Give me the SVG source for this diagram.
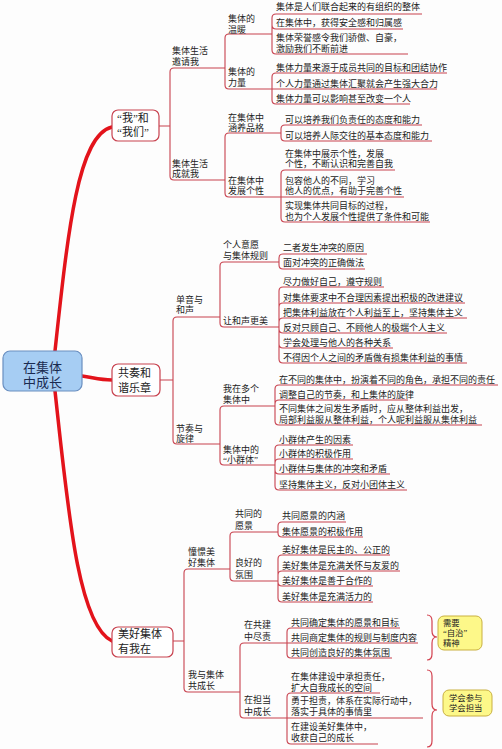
<svg xmlns="http://www.w3.org/2000/svg" width="502" height="749" viewBox="0 0 502 749">
<style>
.t{font-family:"Liberation Serif","Noto Sans CJK SC","Noto Sans CJK JP",serif;font-size:9px;fill:#222}
.bt{font-family:"Liberation Serif","Noto Sans CJK SC",serif;font-size:11px;fill:#222}
.rt{font-family:"Liberation Serif","Noto Sans CJK SC",serif;font-size:13px;fill:#1a2a50}
.yt{font-family:"Liberation Serif","Noto Sans CJK SC",serif;font-size:8.4px;fill:#222}
.c{fill:none;stroke:#c8424f;stroke-width:1.1}
.b{fill:#fff;stroke:#c8424f;stroke-width:1.2}
.m{fill:none;stroke:#e3131b;stroke-width:3.5;stroke-linecap:round}
.y{fill:#fdf889;stroke:#c9b040;stroke-width:1}
.br{fill:none;stroke:#d2404e;stroke-width:1.2}
</style>
<rect width="502" height="749" fill="#fdfdfd"/>
<g id="connectors">
<path class="m" d="M55,351 C68,230 78,135 112,127"/>
<path class="m" d="M82,376 C95,378 100,380 112,380"/>
<path class="m" d="M55,391 C68,510 78,625 112,641"/>
<path class="c" d="M159,126 H170 M170,126 V72 Q170,68 174,68 H225 M170,126 V176 Q170,180 174,180 H225"/>
<path class="c" d="M225,68 V38 Q225,34 229,34 H272 M225,68 V85 Q225,89 229,89 H272"/>
<path class="c" d="M272,34 V18 Q272,14 276,14 H422 M272,34 V25 Q272,29 276,29 H403 M272,34 V50 Q272,54 276,54 H408"/>
<path class="c" d="M272,89 V77 Q272,73 276,73 H447 M272,89 H437 M272,89 V100 Q272,104 276,104 H410"/>
<path class="c" d="M225,180 V137 Q225,133 229,133 H281 M225,180 V193 Q225,197 229,197 H281"/>
<path class="c" d="M281,133 V129 Q281,125 285,125 H422 M281,133 V137 Q281,141 285,141 H432"/>
<path class="c" d="M281,197 V174 Q281,170 285,170 H395 M281,197 H404 M281,197 V218 Q281,222 285,222 H430"/>
<path class="c" d="M160,380 H173 M173,380 V321 Q173,317 177,317 H220 M173,380 V440 Q173,444 177,444 H220"/>
<path class="c" d="M220,317 V266 Q220,262 224,262 H279 M220,317 V323 Q220,327 224,327 H279"/>
<path class="c" d="M279,262 V258 Q279,254 283,254 H367 M279,262 V265 Q279,269 283,269 H365"/>
<path class="c" d="M279,327 V291 Q279,287 283,287 H384 M279,327 V307 Q279,303 283,303 H465 M279,327 V322 Q279,318 283,318 H467 M279,327 V329 Q279,333 283,333 H447 M279,327 V344 Q279,348 283,348 H393 M279,327 V359 Q279,363 283,363 H467"/>
<path class="c" d="M220,444 V410 Q220,406 224,406 H275 M220,444 V461 Q220,465 224,465 H275"/>
<path class="c" d="M275,406 V389 Q275,385 279,385 H498 M275,406 V404 Q275,400 279,400 H408 M275,406 V421 Q275,425 279,425 H482"/>
<path class="c" d="M275,465 V449 Q275,445 279,445 H353 M275,465 V463 Q275,459 279,459 H353 M275,465 V470 Q275,474 279,474 H390 M275,465 V486 Q275,490 279,490 H407"/>
<path class="c" d="M173,641 H184 M184,641 V573 Q184,569 188,569 H230 M184,641 V688 Q184,692 188,692 H240"/>
<path class="c" d="M230,569 V536 Q230,532 234,532 H278 M230,569 V577 Q230,581 234,581 H278"/>
<path class="c" d="M278,532 V526 Q278,522 282,522 H346 M278,532 V533 Q278,537 282,537 H363"/>
<path class="c" d="M278,581 V559 Q278,555 282,555 H390 M278,581 V575 Q278,571 282,571 H400 M278,581 V582 Q278,586 282,586 H373 M278,581 V598 Q278,602 282,602 H373"/>
<path class="c" d="M240,692 V647 Q240,643 244,643 H287 M240,692 V714 Q240,718 244,718 H287"/>
<path class="c" d="M287,643 V632 Q287,628 291,628 H400 M287,643 H418 M287,643 V654 Q287,658 291,658 H392"/>
<path class="c" d="M287,718 V697 Q287,693 291,693 H380 M287,718 H423 M287,718 V740 Q287,744 291,744 H378"/>
<path class="br" d="M427,615 Q432,615 432,621 V631 Q432,637 437,637 Q432,637 432,643 V654 Q432,660 427,660"/>
<path class="br" d="M427,670 Q432,670 432,676 V704 Q432,710 437,710 Q432,710 432,716 V741 Q432,747 427,747"/>
</g>
<g id="root">
<rect x="3" y="351" width="79" height="40" rx="7" fill="#a6cdf3" stroke="#6a8fc0" stroke-width="1.2"/>
<text class="rt" x="42.5" y="371.5" text-anchor="middle">在集体</text>
<text class="rt" x="42.5" y="387" text-anchor="middle">中成长</text>
</g>
<g id="n-women">
<rect class="b" x="112" y="110" width="47" height="31" rx="6"/>
<text class="bt" x="117" y="122">“我”和</text>
<text class="bt" x="117" y="136">“我们”</text>
</g>
<g id="n-yaoqing"><text class="t" x="172" y="53.5">集体生活</text><text class="t" x="172" y="64.5">邀请我</text></g>
<g id="n-chengjiu"><text class="t" x="172" y="166.5">集体生活</text><text class="t" x="172" y="177">成就我</text></g>
<g id="n-wennuan"><text class="t" x="228" y="22">集体的</text><text class="t" x="228" y="32.5">温暖</text></g>
<g id="n-liliang"><text class="t" x="228" y="75">集体的</text><text class="t" x="228" y="85.5">力量</text></g>
<g id="n-hanyang"><text class="t" x="228" y="120.5">在集体中</text><text class="t" x="228" y="131">涵养品格</text></g>
<g id="n-fazhan"><text class="t" x="228" y="183.5">在集体中</text><text class="t" x="228" y="194">发展个性</text></g>
<g id="leaves-1">
<text class="t" x="276" y="10.3">集体是人们联合起来的有组织的整体</text>
<text class="t" x="276" y="26.3">在集体中，获得安全感和归属感</text>
<text class="t" x="276" y="41.3">集体荣誉感令我们骄傲、自豪，</text>
<text class="t" x="276" y="51.8">激励我们不断前进</text>
<text class="t" x="276" y="71">集体力量来源于成员共同的目标和团结协作</text>
<text class="t" x="276" y="86.5">个人力量通过集体汇聚就会产生强大合力</text>
<text class="t" x="276" y="101.5">集体力量可以影响甚至改变一个人</text>
<text class="t" x="285" y="123">可以培养我们负责任的态度和能力</text>
<text class="t" x="285" y="138.5">可以培养人际交往的基本态度和能力</text>
<text class="t" x="285" y="156.5">在集体中展示个性，发展</text>
<text class="t" x="285" y="167">个性，不断认识和完善自我</text>
<text class="t" x="285" y="183.5">包容他人的不同，学习</text>
<text class="t" x="285" y="194">他人的优点，有助于完善个性</text>
<text class="t" x="285" y="209.3">实现集体共同目标的过程，</text>
<text class="t" x="285" y="219.6">也为个人发展个性提供了条件和可能</text>
</g>
<g id="n-gongzou">
<rect class="b" x="112" y="364" width="48" height="32" rx="6"/>
<text class="bt" x="118" y="377">共奏和</text>
<text class="bt" x="118" y="392">谐乐章</text>
</g>
<g id="n-danyin"><text class="t" x="176" y="302.5">单音与</text><text class="t" x="176" y="313">和声</text></g>
<g id="n-jiezou"><text class="t" x="176" y="431.5">节奏与</text><text class="t" x="176" y="442">旋律</text></g>
<g id="n-yiyuan"><text class="t" x="223" y="248.3">个人意愿</text><text class="t" x="223" y="259.3">与集体规则</text></g>
<g id="n-hesheng"><text class="t" x="223" y="323.5">让和声更美</text></g>
<g id="n-duoge"><text class="t" x="223" y="392">我在多个</text><text class="t" x="223" y="402.5">集体中</text></g>
<g id="n-xiaoqunti"><text class="t" x="223" y="452.5">集体中的</text><text class="t" x="223" y="463">“小群体”</text></g>
<g id="leaves-2">
<text class="t" x="283" y="251.3">二者发生冲突的原因</text>
<text class="t" x="283" y="266.3">面对冲突的正确做法</text>
<text class="t" x="283" y="285">尽力做好自己，遵守规则</text>
<text class="t" x="283" y="300.5">对集体要求中不合理因素提出积极的改进建议</text>
<text class="t" x="283" y="315.5">把集体利益放在个人利益至上，坚持集体主义</text>
<text class="t" x="283" y="330.5">反对只顾自己、不顾他人的极端个人主义</text>
<text class="t" x="283" y="345.5">学会处理与他人的各种关系</text>
<text class="t" x="283" y="360.5">不得因个人之间的矛盾做有损集体利益的事情</text>
<text class="t" x="279" y="382.5">在不同的集体中，扮演着不同的角色，承担不同的责任</text>
<text class="t" x="279" y="397.5">调整自己的节奏，和上集体的旋律</text>
<text class="t" x="279" y="412.3">不同集体之间发生矛盾时，应从整体利益出发，</text>
<text class="t" x="279" y="422.6">局部利益服从整体利益，个人呢利益服从集体利益</text>
<text class="t" x="279" y="442.5">小群体产生的因素</text>
<text class="t" x="279" y="456.5">小群体的积极作用</text>
<text class="t" x="279" y="471.5">小群体与集体的冲突和矛盾</text>
<text class="t" x="279" y="487.5">坚持集体主义，反对小团体主义</text>
</g>
<g id="n-meihao">
<rect class="b" x="112" y="627" width="61" height="30" rx="6"/>
<text class="bt" x="118" y="638">美好集体</text>
<text class="bt" x="118" y="652.5">有我在</text>
</g>
<g id="n-chongjing"><text class="t" x="188" y="555.3">憧憬美</text><text class="t" x="188" y="566.3">好集体</text></g>
<g id="n-gongchengzhang"><text class="t" x="188" y="678.3">我与集体</text><text class="t" x="188" y="689.3">共成长</text></g>
<g id="n-yuanjing"><text class="t" x="235" y="517.3">共同的</text><text class="t" x="235" y="528.8">愿景</text></g>
<g id="n-fenwei"><text class="t" x="235" y="566.3">良好的</text><text class="t" x="235" y="578">氛围</text></g>
<g id="n-gongjian"><text class="t" x="244" y="628.3">在共建</text><text class="t" x="244" y="640">中尽责</text></g>
<g id="n-dandang"><text class="t" x="244" y="703.3">在担当</text><text class="t" x="244" y="715">中成长</text></g>
<g id="leaves-3">
<text class="t" x="282" y="519.3">共同愿景的内涵</text>
<text class="t" x="282" y="534.8">集体愿景的积极作用</text>
<text class="t" x="282" y="553">美好集体是民主的、公正的</text>
<text class="t" x="282" y="568.8">美好集体是充满关怀与友爱的</text>
<text class="t" x="282" y="584">美好集体是善于合作的</text>
<text class="t" x="282" y="599.8">美好集体是充满活力的</text>
<text class="t" x="291" y="626">共同确定集体的愿景和目标</text>
<text class="t" x="291" y="640.5">共同商定集体的规则与制度内容</text>
<text class="t" x="291" y="656">共同创造良好的集体氛围</text>
<text class="t" x="291" y="680">在集体建设中承担责任，</text>
<text class="t" x="291" y="690.5">扩大自我成长的空间</text>
<text class="t" x="291" y="704.3">勇于担责，体系在实际行动中，</text>
<text class="t" x="291" y="715">落实于具体的事情里</text>
<text class="t" x="291" y="730.3">在建设美好集体中，</text>
<text class="t" x="291" y="741">收获自己的成长</text>
</g>
<g id="n-zizhi">
<rect class="y" x="438" y="616" width="44" height="34" rx="6"/>
<text class="yt" x="443" y="626">需要</text>
<text class="yt" x="443" y="636">“自治”</text>
<text class="yt" x="443" y="646">精神</text>
</g>
<g id="n-canyu">
<rect class="y" x="443" y="690" width="49" height="26" rx="6"/>
<text class="yt" x="449" y="700.5">学会参与</text>
<text class="yt" x="449" y="710.5">学会担当</text>
</g>
</svg>
